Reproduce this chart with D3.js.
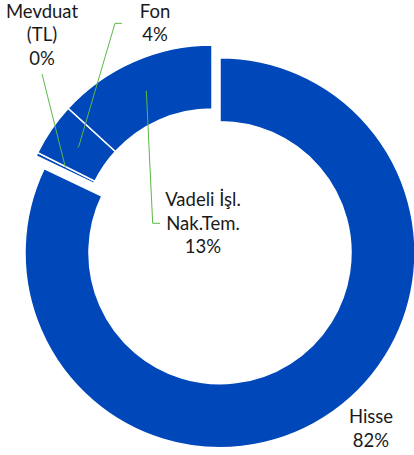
<!DOCTYPE html>
<html>
<head>
<meta charset="utf-8">
<script src="https://cdn.jsdelivr.net/npm/d3@7"></script>
<style>
  body { margin: 0; background: #fff; }
  text { font-family: Lato, "Noto Sans", sans-serif; fill: #1a1a1a; }
</style>
</head>
<body>
<svg width="414" height="455"></svg>
<script>
// slice order clockwise from 12 o'clock, as in the source chart
var names = ["Hisse", "Mevduat (TL)", "Fon", "Vadeli İşl. Nak.Tem."];
var labelLines = [["Hisse"], ["Mevduat", "(TL)"], ["Fon"], ["Vadeli İşl.", "Nak.Tem."]];
var shares = [82.1, 0.3, 4.4, 13.2];

// label anchors (text centre, first baseline) and leader elbows
var labelPos = [[371, 423], [42, 17.5], [155, 17.5], [203, 206]];
var leaderEnd = [null, [[42, 74]], [[79, 145.7], [115, 23.3], [122, 23.3]], [[152.7, 223.3], [160, 223.3]]];
var explode = [15, 0, 0, 0];

var svg = d3.select("svg"),
    cx = 212, cy = 240,
    outerR = 195, innerR = 131;

var pie = d3.pie().sort(null).value(d => d);
var arcs = pie(shares);

var arc = d3.arc().innerRadius(innerR).outerRadius(outerR);
var fmt = d3.format(".0%");

var g = svg.append("g").attr("transform", "translate(" + cx + "," + cy + ")");

g.selectAll("path")
  .data(arcs)
  .enter().append("path")
  .attr("d", arc)
  .attr("fill", "#0047BA")
  .attr("stroke", "#fff")
  .attr("stroke-width", 1.5)
  .attr("transform", (d, i) => {
    var a = (d.startAngle + d.endAngle) / 2;
    return "translate(" + explode[i] * Math.sin(a) + "," + (-explode[i] * Math.cos(a)) + ")";
  });

// leader lines from slice centroid to label
arcs.forEach((d, i) => {
  if (!leaderEnd[i]) return;
  var c = arc.centroid(d);
  var pts = [[cx + c[0], cy + c[1]]].concat(leaderEnd[i]);
  svg.append("path")
    .attr("d", d3.line()(pts))
    .attr("fill", "none")
    .attr("stroke", "#5DB847")
    .attr("stroke-width", 1);
});

// labels
arcs.forEach((d, i) => {
  var lines = labelLines[i].concat([fmt(d.data / 100)]);
  var t = svg.append("text")
    .attr("text-anchor", "middle")
    .attr("font-size", 18.5);
  lines.forEach((s, k) => {
    t.append("tspan")
      .attr("x", labelPos[i][0])
      .attr("y", labelPos[i][1] + k * 23.5)
      .text(s);
  });
});
</script>
</body>
</html>
